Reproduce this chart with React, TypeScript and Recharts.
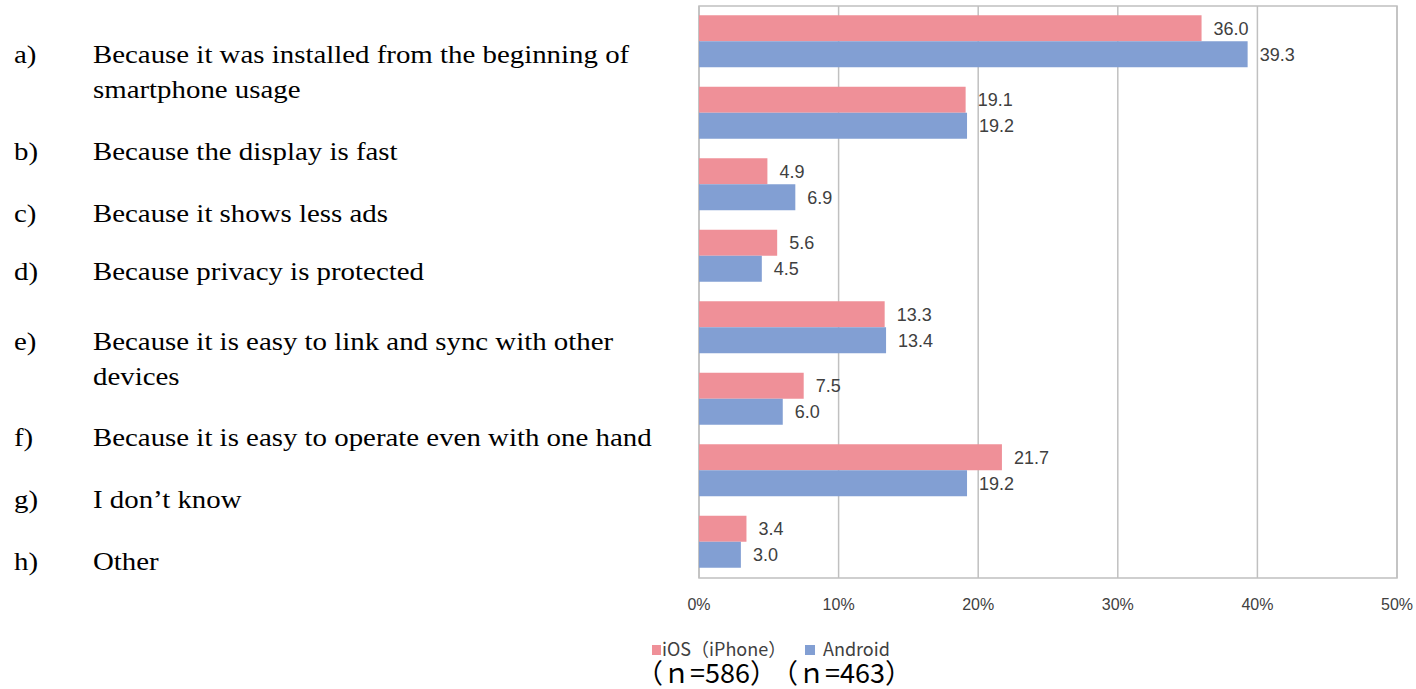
import { BarChart, Bar, XAxis, YAxis, CartesianGrid, ReferenceArea, LabelList } from "recharts";

const letters = ["a)", "b)", "c)", "d)", "e)", "f)", "g)", "h)"];
const reasons = [
  ["Because it was installed from the beginning of", "smartphone usage"],
  ["Because the display is fast"],
  ["Because it shows less ads"],
  ["Because privacy is protected"],
  ["Because it is easy to link and sync with other", "devices"],
  ["Because it is easy to operate even with one hand"],
  ["I don\u2019t know"],
  ["Other"],
];
// vertical centre of each left-hand label (first line)
const reasonY = [54, 151, 213, 271, 341, 437, 499, 561];

const iosValues = [36.0, 19.1, 4.9, 5.6, 13.3, 7.5, 21.7, 3.4];
const androidValues = [39.3, 19.2, 6.9, 4.5, 13.4, 6.0, 19.2, 3.0];
const seriesNames = ["iOS\uFF08iPhone\uFF09", "Android"];
const sampleSizes = ["\uFF08\uFF4E=586\uFF09", "\uFF08\uFF4E=463\uFF09"];
const xTicks = [0, 10, 20, 30, 40, 50];

const PINK = "#ef9098";
const BLUE = "#829fd3";
const GRID = "#c0c0c0";

const data = letters.map((l, i) => ({ cat: l, ios: iosValues[i], android: androidValues[i] }));

const fmt = (v: any) => Number(v).toFixed(1);

const labelStyle = { fill: "#404040", fontSize: 18, fontFamily: "'Liberation Sans', Arial, sans-serif" };

const App = () => {
  return (
    <div style={{ position: "absolute", left: 0, top: 0, width: 1416, height: 689, background: "#fff", overflow: "hidden" }}>
      {/* category text on the left, not aligned to the bars */}
      {letters.map((l, i) => (
        <div key={l} style={{ position: "absolute", left: 0, top: reasonY[i] - 17, fontFamily: "'Liberation Serif', 'Times New Roman', serif", fontSize: 26, lineHeight: "35px", color: "#000" }}>
          <span style={{ position: "absolute", left: 14, transform: "scaleX(1.11)", transformOrigin: "left" }}>{l}</span>
          <div style={{ position: "absolute", left: 93, whiteSpace: "nowrap", transform: "scaleX(1.11)", transformOrigin: "left" }}>
            {reasons[i].map((line, j) => (
              <div key={j}>{line}</div>
            ))}
          </div>
        </div>
      ))}

      <div style={{ position: "absolute", left: 0, top: 0 }}>
        <BarChart width={1416} height={689} data={data} layout="vertical"
          margin={{ top: 6, right: 19, bottom: 81, left: 699 }} barCategoryGap="13%" barGap={0}>
          <CartesianGrid horizontal={false} stroke={GRID} strokeWidth={1.5} />
          <ReferenceArea x1={0} x2={50} fill="none" stroke={GRID} strokeWidth={1.5} strokeOpacity={1} />
          <XAxis type="number" domain={[0, 50]} ticks={xTicks} tickFormatter={(v) => v + "%"}
            axisLine={false} tickLine={false} tickSize={6} tickMargin={15} height={30}
            tick={{ fill: "#404040", fontSize: 16, fontFamily: "'Liberation Sans', Arial, sans-serif" }} />
          <YAxis type="category" dataKey="cat" hide width={0} />
          <Bar dataKey="ios" fill={PINK} isAnimationActive={false}>
            <LabelList dataKey="ios" position="right" offset={12} formatter={fmt} style={labelStyle} />
          </Bar>
          <Bar dataKey="android" fill={BLUE} isAnimationActive={false}>
            <LabelList dataKey="android" position="right" offset={12} formatter={fmt} style={labelStyle} />
          </Bar>
        </BarChart>
      </div>

      {/* legend */}
      <div style={{ position: "absolute", left: 652, top: 645, width: 9, height: 10, background: PINK }} />
      <div style={{ position: "absolute", left: 662, top: 638, fontFamily: "'Noto Sans CJK JP', sans-serif", fontSize: 18, lineHeight: "20px", color: "#404040", whiteSpace: "nowrap" }}>
        {seriesNames[0]}
      </div>
      <div style={{ position: "absolute", left: 805, top: 645, width: 10, height: 10, background: BLUE }} />
      <div style={{ position: "absolute", left: 823, top: 638, fontFamily: "'Noto Sans CJK JP', sans-serif", fontSize: 18, lineHeight: "20px", color: "#404040", whiteSpace: "nowrap" }}>
        {seriesNames[1]}
      </div>
      {sampleSizes.map((s, i) => (
        <div key={s} style={{ position: "absolute", left: i === 0 ? 636 : 771, top: 659, fontFamily: "'Noto Sans CJK JP', sans-serif", fontSize: 27, lineHeight: "26px", color: "#000", whiteSpace: "nowrap" }}>
          {s}
        </div>
      ))}
    </div>
  );
};

export default App;
